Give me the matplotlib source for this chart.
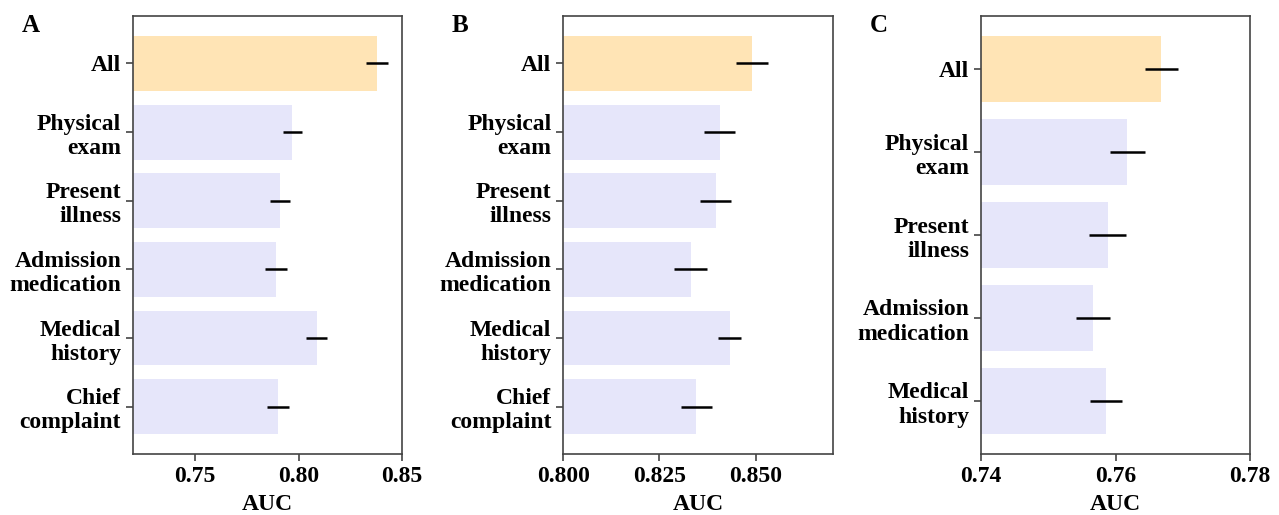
import numpy as np
import matplotlib as mpl
import matplotlib.pyplot as plt

mpl.rcParams["font.family"] = ["Liberation Serif", "DejaVu Serif"]
mpl.rcParams["font.weight"] = "bold"

# panel A
labels_a = ["All", "Physical\nexam", "Present\nillness", "Admission\nmedication",
            "Medical\nhistory", "Chief\ncomplaint"]
auc_a = [0.838, 0.797, 0.791, 0.789, 0.8087, 0.790]
err_a = [0.0053, 0.0048, 0.0050, 0.0053, 0.0050, 0.0052]

# panel B
labels_b = labels_a
auc_b = [0.849, 0.8407, 0.8396, 0.8331, 0.8433, 0.8346]
err_b = [0.0042, 0.0040, 0.0041, 0.0042, 0.0030, 0.0041]

# panel C
labels_c = ["All", "Physical\nexam", "Present\nillness", "Admission\nmedication",
            "Medical\nhistory"]
auc_c = [0.7668, 0.7617, 0.7588, 0.7566, 0.7586]
err_c = [0.0024, 0.0026, 0.0028, 0.0025, 0.0024]

xlims = [(0.72, 0.85), (0.80, 0.87), (0.74, 0.78)]
xticks = [[0.75, 0.80, 0.85], [0.800, 0.825, 0.850], [0.74, 0.76, 0.78]]
xfmt = ["{:.2f}", "{:.3f}", "{:.2f}"]
letters = ["A", "B", "C"]
lefts = [0.104, 0.4404, 0.767]

fig = plt.figure(figsize=(12.79, 5.15), dpi=100)

data = [(labels_a, auc_a, err_a), (labels_b, auc_b, err_b), (labels_c, auc_c, err_c)]
for i, (labs, vals, errs) in enumerate(data):
    ax = fig.add_axes([lefts[i], 0.1184, 0.2105, 0.8505])
    y = np.arange(len(labs))
    colors = ["#FFE4B5"] + ["#E6E6FA"] * (len(labs) - 1)
    ax.barh(y, vals, height=0.8, color=colors, zorder=1)
    ax.errorbar(vals, y, xerr=errs, fmt="none", ecolor="black", elinewidth=1.8,
                capsize=0, zorder=2)
    ax.set_yticks(y)
    ax.set_yticklabels(labs, fontsize=17, fontweight="bold", linespacing=1.2)
    ax.invert_yaxis()
    ax.set_xlim(*xlims[i])
    ax.set_xticks(xticks[i])
    ax.set_xticklabels([xfmt[i].format(t) for t in xticks[i]], fontsize=17,
                       fontweight="bold")
    ax.set_xlabel("AUC", fontsize=17, fontweight="bold", labelpad=5)
    for s in ax.spines.values():
        s.set_color("#444444")
        s.set_linewidth(1.2)
    ax.tick_params(axis="both", color="#444444", width=1.2, length=5)
    ax.text(-0.415, 1.005, letters[i], transform=ax.transAxes, fontsize=18,
            fontweight="bold", va="top", ha="left")

plt.savefig("out.png", dpi=100)
